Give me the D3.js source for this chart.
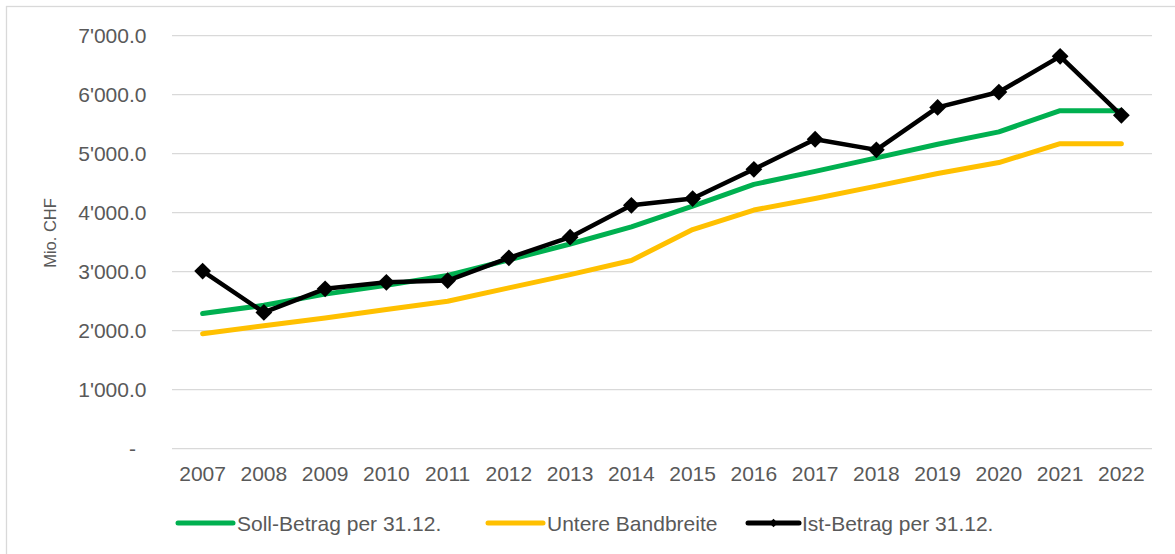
<!DOCTYPE html>
<html>
<head>
<meta charset="utf-8">
<script src="https://cdn.jsdelivr.net/npm/d3@7"></script>
<style>
  body { margin: 0; background: #fff; }
  svg { display: block; font-family: "Liberation Sans", Arial, sans-serif; }
</style>
</head>
<body>
<svg width="1175" height="554"></svg>
<script>
// data (Mio. CHF)
var years = ["2007", "2008", "2009", "2010", "2011", "2012", "2013", "2014",
             "2015", "2016", "2017", "2018", "2019", "2020", "2021", "2022"];
var soll = [2290, 2430, 2620, 2770, 2935, 3200, 3470, 3760, 4110, 4480, 4700, 4930, 5160, 5370, 5730, 5730];
var untere = [1950, 2085, 2215, 2360, 2500, 2725, 2950, 3190, 3715, 4045, 4240, 4450, 4665, 4850, 5170, 5170];
var ist = [3010, 2310, 2710, 2820, 2850, 3235, 3585, 4125, 4240, 4735, 5245, 5065, 5785, 6045, 6650, 5650];
var yTicks = [0, 1000, 2000, 3000, 4000, 5000, 6000, 7000];
var seriesNames = ["Soll-Betrag per 31.12.", "Untere Bandbreite", "Ist-Betrag per 31.12."];

var svg = d3.select("svg");
var textColor = "#595959";

// outer frame (only left / top edges are inside the picture)
svg.append("rect")
    .attr("x", 6.5).attr("y", 6.5)
    .attr("width", 1200).attr("height", 600)
    .attr("fill", "none")
    .attr("stroke", "#d9d9d9")
    .attr("stroke-width", 1.3);

var x = d3.scaleBand().domain(years).range([172, 1152]);
var y = d3.scaleLinear().domain([0, 7000]).range([448.7, 35.7]);
function cx(d, i) { return x(years[i]) + x.bandwidth() / 2; }

var fmt = d3.formatLocale({ thousands: "'", grouping: [3], decimal: ".", currency: ["", ""] }).format(",.1f");

// gridlines
svg.append("g").selectAll("line")
    .data(yTicks)
    .enter().append("line")
    .attr("x1", 172).attr("x2", 1152)
    .attr("y1", function (d) { return y(d); })
    .attr("y2", function (d) { return y(d); })
    .attr("stroke", "#d9d9d9")
    .attr("stroke-width", 1.3);

// y tick labels
svg.append("g").selectAll("text")
    .data(yTicks)
    .enter().append("text")
    .attr("x", function (d) { return d === 0 ? 136 : 146.5; })
    .attr("y", function (d) { return y(d) + 7.5; })
    .attr("text-anchor", "end")
    .attr("fill", textColor)
    .style("font-size", "21px")
    .text(function (d) { return d === 0 ? "-" : fmt(d); });

// x tick labels
svg.append("g").selectAll("text")
    .data(years)
    .enter().append("text")
    .attr("x", function (d) { return x(d) + x.bandwidth() / 2; })
    .attr("y", 480.5)
    .attr("text-anchor", "middle")
    .attr("fill", textColor)
    .style("font-size", "21px")
    .text(function (d) { return d; });

// y axis title
svg.append("text")
    .attr("transform", "translate(56,233) rotate(-90)")
    .attr("text-anchor", "middle")
    .attr("fill", textColor)
    .style("font-size", "16.5px")
    .text("Mio. CHF");

var line = d3.line()
    .x(cx)
    .y(function (d) { return y(d); });

svg.append("path")
    .datum(soll)
    .attr("d", line)
    .attr("fill", "none")
    .attr("stroke", "#00b050")
    .attr("stroke-width", 5)
    .attr("stroke-linecap", "round")
    .attr("stroke-linejoin", "round");

svg.append("path")
    .datum(untere)
    .attr("d", line)
    .attr("fill", "none")
    .attr("stroke", "#ffc000")
    .attr("stroke-width", 5)
    .attr("stroke-linecap", "round")
    .attr("stroke-linejoin", "round");

svg.append("path")
    .datum(ist)
    .attr("d", line)
    .attr("fill", "none")
    .attr("stroke", "#000")
    .attr("stroke-width", 4.5)
    .attr("stroke-linejoin", "round");

var diamond = d3.symbol().type(d3.symbolDiamond2).size(180);
svg.append("g").selectAll("path")
    .data(ist)
    .enter().append("path")
    .attr("d", diamond)
    .attr("transform", function (d, i) { return "translate(" + cx(d, i) + "," + y(d) + ")"; })
    .attr("fill", "#000");

// legend
var legend = [
    { name: seriesNames[0], color: "#00b050", x: 178, marker: false },
    { name: seriesNames[1], color: "#ffc000", x: 488, marker: false },
    { name: seriesNames[2], color: "#000", x: 748, marker: true }
];
var lg = svg.append("g").selectAll("g")
    .data(legend)
    .enter().append("g")
    .attr("transform", function (d) { return "translate(" + d.x + ",523)"; });

lg.append("line")
    .attr("x1", 0).attr("x2", function (d) { return d.marker ? 51 : 55; })
    .attr("stroke", function (d) { return d.color; })
    .attr("stroke-width", 5)
    .attr("stroke-linecap", "round");

lg.filter(function (d) { return d.marker; })
    .append("path")
    .attr("d", d3.symbol().type(d3.symbolDiamond2).size(45))
    .attr("transform", "translate(25.5,0)")
    .attr("fill", "#000");

lg.append("text")
    .attr("x", function (d) { return d.marker ? 54 : 59; })
    .attr("y", 7.5)
    .attr("fill", textColor)
    .style("font-size", "21px")
    .text(function (d) { return d.name; });
</script>
</body>
</html>
